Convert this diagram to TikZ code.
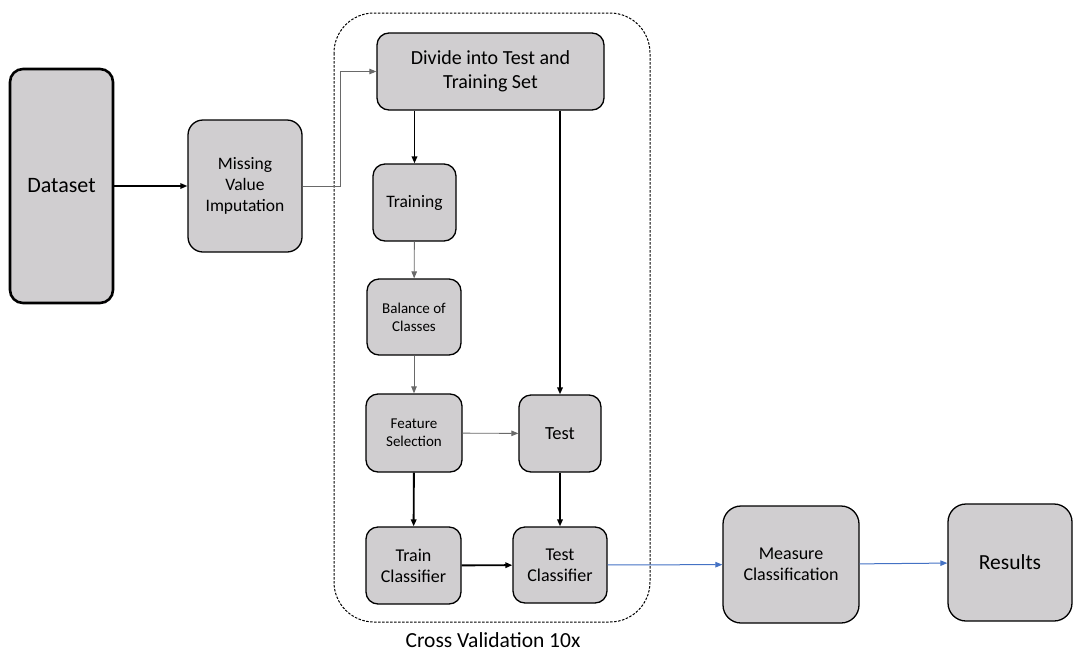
\documentclass[tikz,border=0pt]{standalone}
\usepackage{fontspec}
\setmainfont{Carlito}
\usepackage{amsmath, amssymb, tikz}
\usetikzlibrary{arrows.meta}

\definecolor{boxgray}{RGB}{208,206,208}
\definecolor{linkgray}{RGB}{105,105,105}
\definecolor{linkblue}{RGB}{68,114,196}

\begin{document}
\begin{tikzpicture}
            [->, >={Triangle[length=7pt, width=5.5pt]}, x=1pt, y=-1pt, line width=1.1pt,
             box/.style={shape=rectangle, draw=black, fill=boxgray, rounded corners=12pt, align=center, inner sep=1pt, line width=1.3pt},
             thin link/.style={draw=linkgray, line width=0.9pt},
             thick link/.style={draw=black, line width=1.9pt},
             blue link/.style={draw=linkblue, line width=1pt}]
            \useasboundingbox (0, 0) rectangle (1073, 651);

            % cross validation frame
            \draw[-, dash pattern=on 2.5pt off 1.5pt, line width=1pt, rounded corners=40pt] (334, 13) rectangle (650, 622);
            \node[font=\fontsize{21.5}{25}\selectfont] (cvlabel) at (493, 640) {Cross Validation 10x};

            \node[box, line width=2.6pt, rounded corners=13pt, minimum width=103pt, minimum height=234pt, font=\fontsize{22}{26}\selectfont] (dataset) at (61.5, 186) {Dataset};
            \node[box, rounded corners=15pt, minimum width=114pt, minimum height=132pt, font=\fontsize{17.5}{20.7}\selectfont] (mvi) at (245, 186) {Missing\\ Value\\ Imputation};
            \node[box, minimum width=227pt, minimum height=77pt, font=\fontsize{20}{24}\selectfont] (divide) at (490.5, 71.5) {Divide into Test and\\ Training Set};
            \node[box, minimum width=83pt, minimum height=77pt, font=\fontsize{17.5}{21}\selectfont] (training) at (414.5, 202.5) {Training};
            \node[box, minimum width=94pt, minimum height=76pt, font=\fontsize{15}{18}\selectfont] (balance) at (414, 317) {Balance of\\ Classes};
            \node[box, minimum width=96pt, minimum height=78pt, font=\fontsize{15}{17.7}\selectfont] (feature) at (414, 433) {Feature\\ Selection};
            \node[box, minimum width=82pt, minimum height=77pt, font=\fontsize{18.5}{22}\selectfont] (test) at (560, 433.5) {Test};
            \node[box, minimum width=95pt, minimum height=77pt, font=\fontsize{18}{21}\selectfont] (trainclf) at (413.5, 565.5) {Train\\ Classifier};
            \node[box, minimum width=94pt, minimum height=76pt, font=\fontsize{18}{21}\selectfont] (testclf) at (560, 565) {Test\\ Classifier};
            \node[box, rounded corners=18pt, minimum width=136pt, minimum height=117pt, font=\fontsize{18}{21}\selectfont] (measure) at (791, 564.5) {Measure\\ Classification};
            \node[box, rounded corners=18pt, minimum width=124pt, minimum height=117pt, font=\fontsize{21.5}{25}\selectfont] (results) at (1010, 562.5) {Results};
            \coordinate (bend) at (340, 186);

            \path [->] (dataset) edge[draw=black, line width=1.6pt] (mvi);
            \draw [->, thin link] (mvi.east) -- (bend) |- (divide.west);
            \path [->] (training.north |- divide.south) edge[thick link] (training.north);
            \path [->] (test.north |- divide.south) edge[thick link] (test.north);
            \path [->] (training) edge[thin link] (balance);
            \path [->] (balance) edge[thin link] (feature);
            \path [->] (feature) edge[thin link] (test);
            \path [->] (feature) edge[thick link] (trainclf);
            \path [->] (test) edge[thick link] (testclf);
            \path [->] (trainclf) edge[thick link] (testclf);
            \path [->] (testclf) edge[blue link] (measure);
            \path [->] (measure) edge[blue link] (results);
        \end{tikzpicture}
\end{document}
